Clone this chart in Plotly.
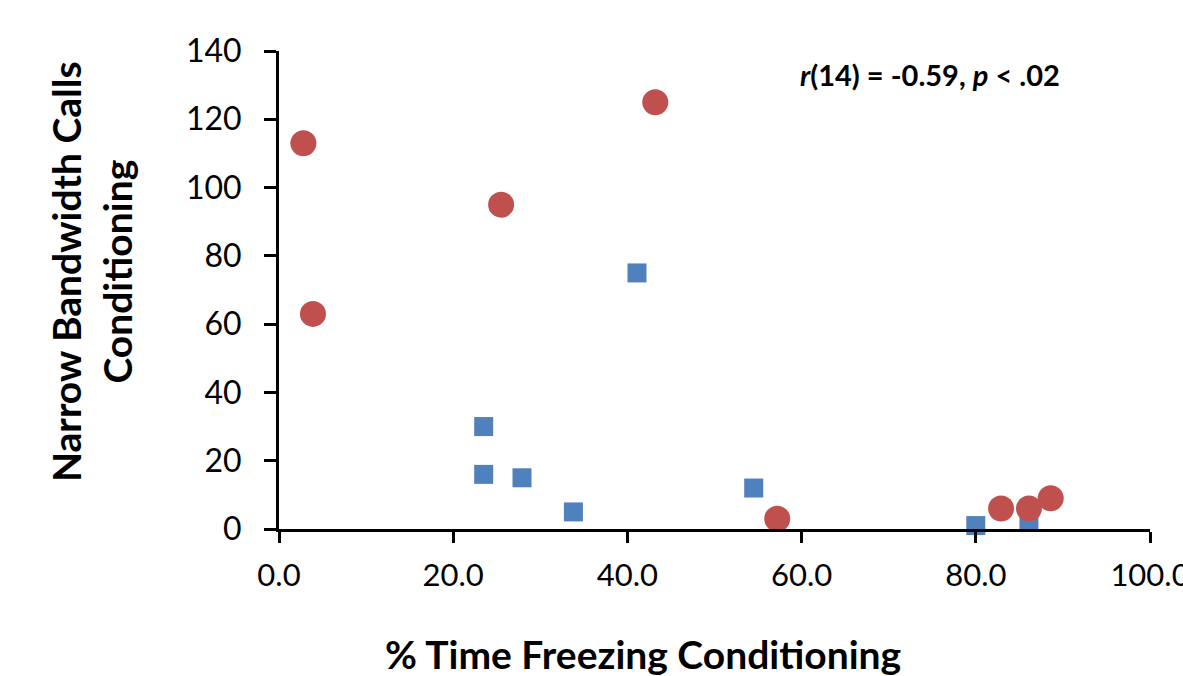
import plotly.graph_objects as go

# Data
red_x = [2.8, 3.9, 25.5, 43.2, 57.2, 82.9, 86.1, 88.6]
red_y = [113, 63, 95, 125, 3, 6, 6, 9]
blue_x = [23.5, 23.5, 27.9, 33.8, 41.1, 54.5, 80.0, 86.1]
blue_y = [30, 16, 15, 5, 75, 12, 1, 2]

x_ticks = [0, 20, 40, 60, 80, 100]
x_tick_labels = ["0.0", "20.0", "40.0", "60.0", "80.0", "100.0"]
y_ticks = [0, 20, 40, 60, 80, 100, 120, 140]

FONT = "Lato, 'Open Sans', sans-serif"

fig = go.Figure()
fig.add_trace(go.Scatter(
    x=blue_x, y=blue_y, mode="markers",
    marker=dict(symbol="square", size=19, color="#4F81BD", line=dict(width=0)),
    hoverinfo="skip", cliponaxis=False,
))
fig.add_trace(go.Scatter(
    x=red_x, y=red_y, mode="markers",
    marker=dict(symbol="circle", size=26, color="#C0504D", line=dict(width=0)),
    hoverinfo="skip", cliponaxis=False,
))

fig.update_layout(
    width=1183, height=676,
    margin=dict(l=279, r=33, t=51, b=147, autoexpand=False),
    paper_bgcolor="white", plot_bgcolor="white",
    showlegend=False,
    font=dict(family=FONT, color="black", size=30),
    xaxis=dict(
        range=[0, 100], tickmode="array", tickvals=x_ticks, ticktext=x_tick_labels,
        showgrid=False, zeroline=False, showline=True, linecolor="black", linewidth=3,
        ticks="outside", ticklen=11, tickwidth=3, tickcolor="black",
        ticklabeloverflow="allow", ticklabelstandoff=6, automargin=False,
        tickfont=dict(family=FONT, size=31, color="black"),
    ),
    yaxis=dict(
        range=[0, 140], tickmode="array", tickvals=y_ticks,
        showgrid=False, zeroline=False, showline=True, linecolor="black", linewidth=3,
        ticks="outside", ticklen=12, tickwidth=3, tickcolor="black",
        ticklabelstandoff=16, automargin=False,
        tickfont=dict(family=FONT, size=32, color="black"),
    ),
    annotations=[
        dict(text="<b><i>r</i>(14) = -0.59, <i>p</i> &lt; .02</b>",
             xref="paper", yref="paper", x=(930 - 279) / 871, y=(529 - 74) / 478,
             xanchor="center", yanchor="middle", showarrow=False,
             font=dict(family=FONT, size=29, color="black")),
        dict(text="<b>% Time Freezing Conditioning</b>",
             xref="paper", yref="paper", x=(643 - 279) / 871, y=(529 - 654) / 478,
             xanchor="center", yanchor="middle", showarrow=False,
             font=dict(family=FONT, size=39, color="black")),
        dict(text="<b>Narrow Bandwidth Calls<br>Conditioning</b>",
             xref="paper", yref="paper", x=(91 - 279) / 871, y=(529 - 272) / 478,
             xanchor="center", yanchor="middle", showarrow=False, textangle=-90,
             font=dict(family=FONT, size=39, color="black")),
    ],
)

fig.write_html("out.html")
